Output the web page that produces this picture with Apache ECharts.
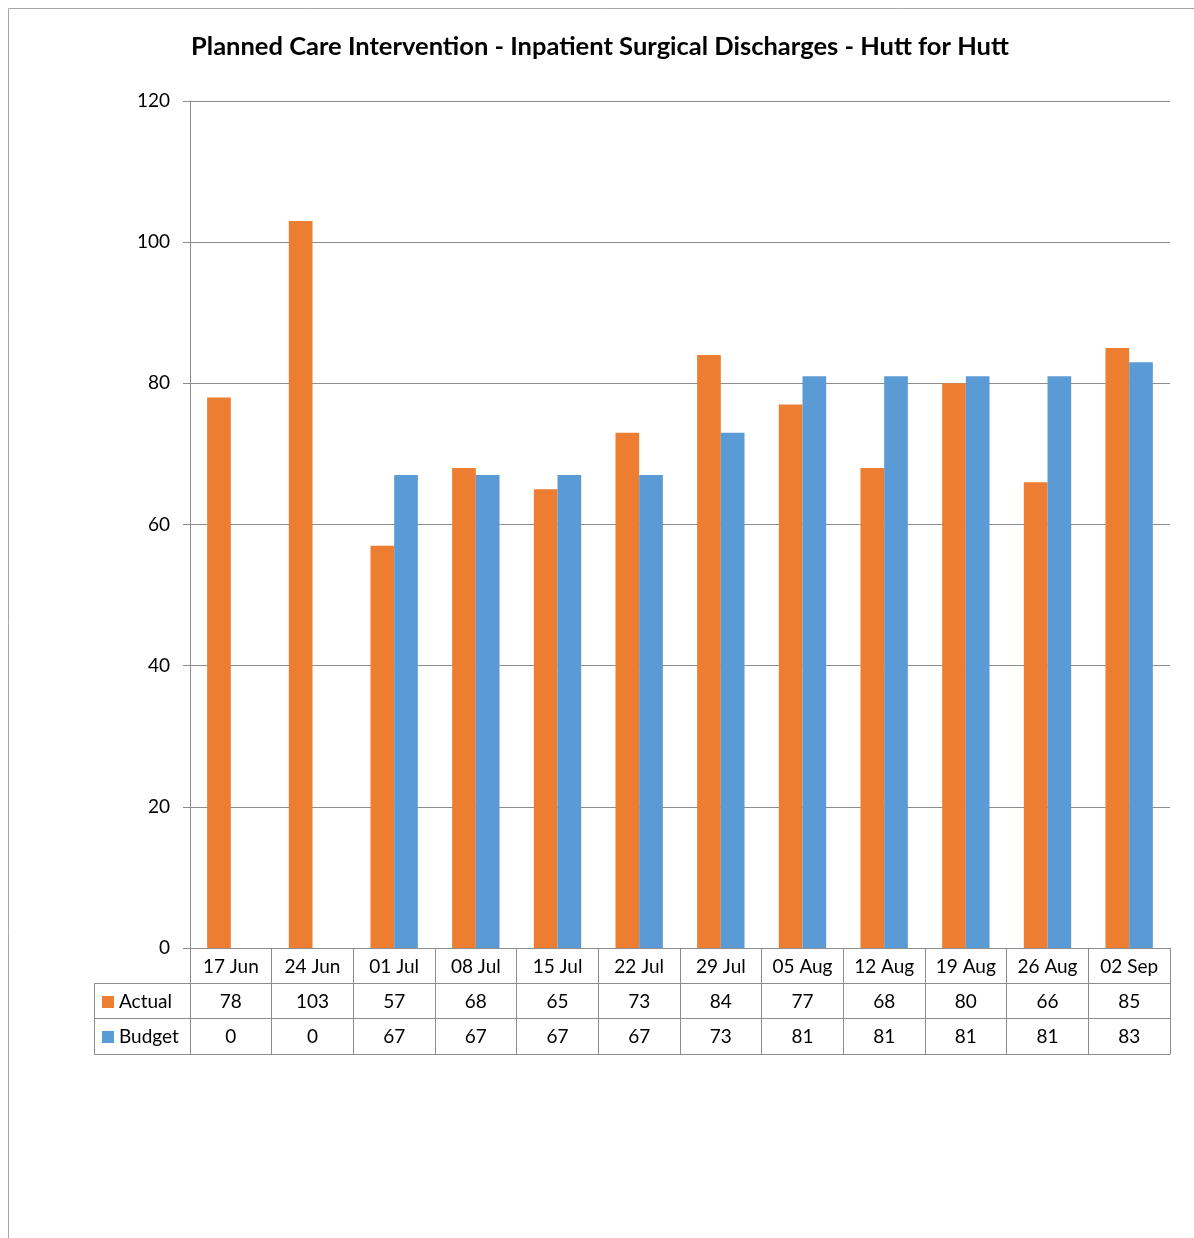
<!DOCTYPE html>
<html>
<head>
<meta charset="utf-8">
<script src="https://cdn.jsdelivr.net/npm/echarts@6/dist/echarts.min.js"></script>
<style>
  html, body { margin: 0; padding: 0; background: #fff; }
  #chart { width: 1194px; height: 1238px; }
</style>
</head>
<body>
<div id="chart"></div>
<script>
// Weekly inpatient surgical discharges, actual vs budget
const weeks = ['17 Jun', '24 Jun', '01 Jul', '08 Jul', '15 Jul', '22 Jul', '29 Jul', '05 Aug', '12 Aug', '19 Aug', '26 Aug', '02 Sep'];
const actual = [78, 103, 57, 68, 65, 73, 84, 77, 68, 80, 66, 85];
const budget = [0, 0, 67, 67, 67, 67, 73, 81, 81, 81, 81, 83];
const yTicks = { min: 0, max: 120, interval: 20 };

const FONT = 'Lato';
const LINE = '#8c8c8c';
const ORANGE = '#ED7D31';
const BLUE = '#5B9BD5';

const chart = echarts.init(document.getElementById('chart'), null, { renderer: 'canvas' });

// data-table rows under the plot, each drawn as an extra category axis
function tableAxis(values, offset, showLine) {
  return {
    type: 'category',
    data: values.map(String),
    position: 'bottom',
    offset: offset,
    gridIndex: 0,
    axisLine: { show: showLine, lineStyle: { color: LINE, width: 1 } },
    axisTick: { show: false },
    axisLabel: { show: true, interval: 0, margin: 9, fontFamily: FONT, fontSize: 19, color: '#000' },
    splitLine: { show: false }
  };
}

const option = {
  backgroundColor: '#fff',
  animation: false,
  title: {
    text: 'Planned Care Intervention - Inpatient Surgical Discharges - Hutt for Hutt',
    left: 595, top: 29, textAlign: 'center',
    textStyle: { fontFamily: FONT, fontSize: 25.5, fontWeight: 'bold', color: '#000' }
  },
  legend: {
    orient: 'vertical',
    left: 97, top: 987,
    itemWidth: 12, itemHeight: 12, itemGap: 15,
    icon: 'rect',
    selectedMode: false,
    textStyle: { fontFamily: FONT, fontSize: 19, color: '#000', lineHeight: 20 },
    data: ['Actual', 'Budget']
  },
  grid: { left: 190, right: 24, top: 101, bottom: 290, containLabel: false },
  xAxis: [
    {
      type: 'category',
      data: weeks,
      position: 'bottom',
      axisLine: { show: true, lineStyle: { color: LINE, width: 1 } },
      axisTick: { show: true, alignWithLabel: false, interval: 0, length: 106, lineStyle: { color: LINE, width: 1 } },
      axisLabel: { interval: 0, margin: 9, fontFamily: FONT, fontSize: 19, color: '#000' }
    },
    tableAxis(actual, 35, true),
    tableAxis(budget, 70, true),
    Object.assign(tableAxis(weeks, 106, true), { axisLabel: { show: false } })
  ],
  yAxis: {
    type: 'value',
    min: yTicks.min, max: yTicks.max, interval: yTicks.interval,
    axisLine: { show: true, lineStyle: { color: LINE, width: 1 } },
    axisTick: { show: true, length: 7, lineStyle: { color: LINE } },
    axisLabel: { margin: 20, fontFamily: FONT, fontSize: 19, color: '#000' },
    splitLine: { show: true, lineStyle: { color: LINE, width: 1 } }
  },
  series: [
    {
      name: 'Actual', type: 'bar', data: actual,
      itemStyle: { color: ORANGE },
      barGap: '0%', barCategoryGap: '42%'
    },
    {
      name: 'Budget', type: 'bar', data: budget,
      itemStyle: { color: BLUE },
      barGap: '0%', barCategoryGap: '42%'
    }
  ],
  graphic: [
    // outer chart frame
    { type: 'rect', shape: { x: 8.5, y: 8.5, width: 1300, height: 1300 }, style: { fill: null, stroke: '#a6a6a6', lineWidth: 1 }, silent: true },
    // header column of the data table
    { type: 'polyline', shape: { points: [[190, 983.5], [94.5, 983.5], [94.5, 1054.5], [190, 1054.5]] }, style: { fill: null, stroke: LINE, lineWidth: 1 }, silent: true },
    { type: 'line', shape: { x1: 94.5, y1: 1018.5, x2: 190, y2: 1018.5 }, style: { stroke: LINE, lineWidth: 1 }, silent: true }
  ]
};

chart.setOption(option);
</script>
</body>
</html>
